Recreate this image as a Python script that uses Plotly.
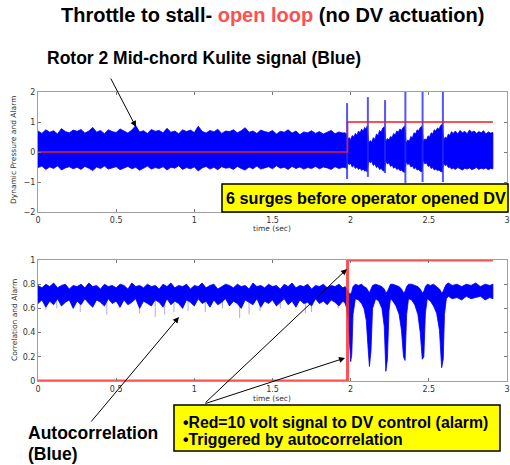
import plotly.graph_objects as go

# --- top panel: Kulite dynamic pressure, envelope of the blue trace (calm part, one value per 0.025 s)
kulite_hi_calm = [0.70, 0.62, 0.74, 0.66, 0.71, 0.60, 0.78, 0.68, 0.64, 0.73,
                  0.69, 0.75, 0.63, 0.70, 0.82, 0.66, 0.72, 0.61, 0.74, 0.68,
                  0.65, 0.77, 0.70, 0.63, 0.73, 0.88, 0.67, 0.71, 0.62, 0.75,
                  0.69, 0.72, 0.64, 0.79, 0.66, 0.70, 0.61, 0.74, 0.68, 0.73,
                  0.65, 0.86, 0.69, 0.63, 0.72, 0.67, 0.76, 0.62, 0.70, 0.68,
                  0.74, 0.64, 0.71, 0.81, 0.66, 0.70, 0.62, 0.73, 0.68, 0.65,
                  0.72, 0.60, 0.69, 0.66, 0.74, 0.63, 0.70, 0.58, 0.67, 0.64,
                  0.71, 0.62, 0.68, 0.60, 0.66, 0.72, 0.61, 0.67, 0.63]
kulite_lo_calm = [-0.52, -0.47, -0.58, -0.50, -0.55, -0.46, -0.60, -0.53, -0.49, -0.56,
                  -0.51, -0.58, -0.48, -0.54, -0.62, -0.50, -0.55, -0.47, -0.57, -0.52,
                  -0.49, -0.59, -0.54, -0.48, -0.56, -0.51, -0.61, -0.53, -0.47, -0.57,
                  -0.52, -0.55, -0.49, -0.60, -0.51, -0.54, -0.46, -0.58, -0.52, -0.56,
                  -0.50, -0.63, -0.53, -0.48, -0.57, -0.51, -0.59, -0.49, -0.54, -0.52,
                  -0.58, -0.48, -0.55, -0.60, -0.50, -0.56, -0.47, -0.57, -0.53, -0.49,
                  -0.56, -0.46, -0.54, -0.51, -0.58, -0.48, -0.55, -0.50, -0.57, -0.52,
                  -0.55, -0.48, -0.56, -0.50, -0.53, -0.58, -0.49, -0.55, -0.51]
calm_t = [i * 0.025 for i in range(len(kulite_hi_calm))]

# surge part (between the spikes the amplitude builds up again)
surge_t = [1.965, 1.975,
           1.98, 1.99, 2.00, 2.01, 2.02, 2.03, 2.04, 2.05, 2.06, 2.07, 2.08, 2.09, 2.10, 2.105,
           2.115, 2.125, 2.135, 2.145, 2.155, 2.165, 2.175, 2.185, 2.195, 2.205, 2.215,
           2.225, 2.235, 2.245, 2.255, 2.265, 2.275, 2.285, 2.295, 2.305, 2.315, 2.325, 2.335, 2.345,
           2.355, 2.365, 2.375, 2.385, 2.395, 2.405, 2.415, 2.425, 2.435, 2.445, 2.455,
           2.465, 2.475, 2.485, 2.495, 2.505, 2.515, 2.525, 2.535, 2.545, 2.555, 2.565, 2.575, 2.585,
           2.595, 2.605, 2.615, 2.625, 2.635, 2.645, 2.655, 2.67, 2.685, 2.70, 2.715, 2.73,
           2.745, 2.76, 2.775, 2.79, 2.805, 2.82, 2.835, 2.85, 2.865, 2.88, 2.895, 2.91]
kulite_hi_surge = [0.64, 0.58,
                   0.40, 0.48, 0.42, 0.55, 0.50, 0.62, 0.56, 0.70, 0.64, 0.76, 0.70, 0.82, 0.76, 0.86,
                   0.30, 0.38, 0.33, 0.48, 0.42, 0.60, 0.55, 0.72, 0.66, 0.80, 0.84,
                   0.36, 0.45, 0.40, 0.52, 0.48, 0.62, 0.57, 0.70, 0.66, 0.77, 0.72, 0.82, 0.86,
                   0.30, 0.40, 0.36, 0.52, 0.47, 0.64, 0.60, 0.74, 0.70, 0.82, 0.86,
                   0.34, 0.44, 0.40, 0.54, 0.50, 0.64, 0.60, 0.74, 0.70, 0.80, 0.76, 0.88, 0.92,
                   0.38, 0.50, 0.46, 0.60, 0.55, 0.68, 0.62, 0.70, 0.60, 0.72, 0.64, 0.69,
                   0.61, 0.73, 0.66, 0.70, 0.62, 0.68, 0.64, 0.71, 0.60, 0.67, 0.63, 0.65]
kulite_lo_surge = [-0.52, -0.56,
                   -0.35, -0.42, -0.38, -0.50, -0.45, -0.55, -0.50, -0.58, -0.54, -0.62, -0.57, -0.64, -0.60, -0.66,
                   -0.28, -0.36, -0.32, -0.45, -0.40, -0.52, -0.48, -0.58, -0.55, -0.62, -0.64,
                   -0.30, -0.40, -0.36, -0.48, -0.44, -0.54, -0.50, -0.58, -0.55, -0.62, -0.60, -0.66, -0.68,
                   -0.32, -0.42, -0.38, -0.50, -0.46, -0.56, -0.52, -0.60, -0.58, -0.64, -0.66,
                   -0.28, -0.40, -0.36, -0.48, -0.45, -0.55, -0.52, -0.60, -0.57, -0.62, -0.60, -0.65, -0.66,
                   -0.36, -0.46, -0.42, -0.52, -0.50, -0.57, -0.53, -0.58, -0.52, -0.56, -0.60, -0.54,
                   -0.57, -0.53, -0.59, -0.55, -0.52, -0.58, -0.54, -0.57, -0.53, -0.59, -0.55, -0.56]

# the 6 surge spikes
spike_t = [1.977, 2.11, 2.22, 2.35, 2.46, 2.59]
spike_hi = [1.63, 1.83, 1.73, 2.0, 2.0, 2.0]
spike_lo = [-0.90, -0.83, -0.70, -1.03, -1.00, -1.00]

# alarm (red)
alarm_t = [0, 1.98, 1.98, 2.91]
alarm_v = [0, 0, 1, 1]

# --- bottom panel: autocorrelation envelope (calm part, one value per 0.025 s)
corr_hi_calm = [0.79, 0.77, 0.80, 0.78, 0.81, 0.77, 0.79, 0.80, 0.76, 0.79,
                0.78, 0.80, 0.77, 0.81, 0.78, 0.79, 0.76, 0.80, 0.78, 0.79,
                0.77, 0.80, 0.79, 0.76, 0.81, 0.78, 0.79, 0.77, 0.80, 0.78,
                0.79, 0.76, 0.80, 0.78, 0.81, 0.77, 0.79, 0.78, 0.80, 0.76,
                0.79, 0.78, 0.81, 0.77, 0.79, 0.80, 0.76, 0.78, 0.80, 0.79,
                0.77, 0.80, 0.78, 0.79, 0.76, 0.81, 0.78, 0.79, 0.77, 0.80,
                0.78, 0.79, 0.76, 0.80, 0.78, 0.81, 0.77, 0.79, 0.78, 0.80,
                0.76, 0.79, 0.78, 0.80, 0.77, 0.79, 0.78, 0.80, 0.77]
corr_lo_calm = [0.64, 0.67, 0.61, 0.66, 0.63, 0.68, 0.62, 0.65, 0.67, 0.60,
                0.66, 0.63, 0.68, 0.64, 0.61, 0.67, 0.65, 0.62, 0.68, 0.64,
                0.66, 0.61, 0.67, 0.63, 0.65, 0.68, 0.60, 0.66, 0.64, 0.62,
                0.67, 0.65, 0.61, 0.68, 0.63, 0.66, 0.64, 0.60, 0.67, 0.65,
                0.62, 0.68, 0.64, 0.66, 0.61, 0.67, 0.63, 0.65, 0.68, 0.62,
                0.66, 0.64, 0.60, 0.67, 0.65, 0.63, 0.68, 0.61, 0.66, 0.64,
                0.67, 0.62, 0.65, 0.68, 0.63, 0.66, 0.61, 0.67, 0.64, 0.65,
                0.62, 0.68, 0.64, 0.66, 0.63, 0.67, 0.65, 0.62, 0.66]

corr_t_surge = [1.965, 1.975, 1.985, 1.993, 2.000, 2.007, 2.015, 2.03, 2.05, 2.07, 2.085, 2.10, 2.11,
                2.12, 2.13, 2.14, 2.16, 2.18, 2.20, 2.215, 2.225, 2.235, 2.245, 2.255, 2.27, 2.29,
                2.31, 2.325, 2.338, 2.348, 2.358, 2.37, 2.39, 2.41, 2.43, 2.445, 2.458, 2.468, 2.478,
                2.49, 2.51, 2.53, 2.55, 2.568, 2.582, 2.592, 2.60, 2.612, 2.625, 2.65, 2.68, 2.71,
                2.74, 2.77, 2.80, 2.83, 2.86, 2.89, 2.91]
corr_hi_surge = [0.78, 0.76, 0.74, 0.72, 0.72, 0.74, 0.78, 0.80, 0.79, 0.80, 0.78, 0.77, 0.75,
                 0.73, 0.76, 0.79, 0.80, 0.79, 0.78, 0.76, 0.73, 0.74, 0.78, 0.80, 0.80, 0.79,
                 0.78, 0.76, 0.73, 0.74, 0.78, 0.80, 0.80, 0.79, 0.78, 0.76, 0.73, 0.74, 0.78,
                 0.80, 0.79, 0.80, 0.78, 0.76, 0.73, 0.74, 0.77, 0.80, 0.81, 0.79, 0.80, 0.78,
                 0.80, 0.79, 0.81, 0.78, 0.80, 0.79, 0.80]
corr_lo_surge = [0.64, 0.60, 0.50, 0.30, 0.16, 0.22, 0.55, 0.68, 0.67, 0.64, 0.60, 0.50, 0.30,
                 0.12, 0.25, 0.60, 0.68, 0.66, 0.60, 0.45, 0.08, 0.18, 0.58, 0.68, 0.66, 0.62,
                 0.55, 0.42, 0.20, 0.17, 0.55, 0.68, 0.67, 0.63, 0.55, 0.40, 0.18, 0.20, 0.56,
                 0.68, 0.66, 0.62, 0.56, 0.42, 0.11, 0.18, 0.55, 0.68, 0.70, 0.68, 0.69, 0.67,
                 0.70, 0.68, 0.69, 0.70, 0.67, 0.69, 0.68]

# faint downward dips of the autocorrelation
dip_t = [0.05, 0.12, 0.27, 0.44, 0.52, 0.65, 0.75, 0.81, 0.87, 0.96, 1.07, 1.18, 1.29, 1.35,
         1.42, 1.55, 1.71, 1.75, 1.92]
dip_v = [0.59, 0.60, 0.57, 0.55, 0.60, 0.56, 0.53, 0.55, 0.57, 0.58, 0.57, 0.60, 0.52, 0.55,
         0.58, 0.60, 0.56, 0.57, 0.60]

W, H = 510, 465
def px(x):
    return x / W
def py(y):
    return 1 - y / H

BLUE = '#0000ff'
fig = go.Figure()

# top panel blue band
t_all = calm_t + surge_t
hi_all = kulite_hi_calm + kulite_hi_surge
lo_all = kulite_lo_calm + kulite_lo_surge
fig.add_trace(go.Scatter(x=t_all + t_all[::-1], y=hi_all + lo_all[::-1], fill='toself',
                         fillcolor=BLUE, line=dict(color=BLUE, width=0.8), mode='lines',
                         xaxis='x', yaxis='y', hoverinfo='skip'))
sx, sy = [], []
for t, a, b in zip(spike_t, spike_hi, spike_lo):
    sx += [t, t, None]
    sy += [b, a, None]
fig.add_trace(go.Scatter(x=sx, y=sy, mode='lines', line=dict(color='rgba(40,40,255,0.8)', width=2),
                         xaxis='x', yaxis='y'))
fig.add_trace(go.Scatter(x=alarm_t, y=alarm_v, mode='lines', line=dict(color='#ee1c25', width=1.5),
                         xaxis='x', yaxis='y'))

# bottom panel
dx, dy = [], []
for t, v in zip(dip_t, dip_v):
    dx += [t, t, None]
    dy += [v, 0.7, None]
fig.add_trace(go.Scatter(x=dx, y=dy, mode='lines', line=dict(color='rgba(60,60,255,0.45)', width=1),
                         xaxis='x2', yaxis='y2'))
ct = calm_t + corr_t_surge
chi = corr_hi_calm + corr_hi_surge
clo = corr_lo_calm + corr_lo_surge
fig.add_trace(go.Scatter(x=ct + ct[::-1], y=chi + clo[::-1], fill='toself',
                         fillcolor=BLUE, line=dict(color=BLUE, width=0.8), mode='lines',
                         xaxis='x2', yaxis='y2', hoverinfo='skip'))
fig.add_trace(go.Scatter(x=alarm_t, y=alarm_v, mode='lines', line=dict(color='rgba(255,50,50,0.85)', width=3),
                         xaxis='x2', yaxis='y2'))

axis_style = dict(showline=True, linecolor='#a0a0a0', linewidth=1, mirror='ticks', ticks='inside',
                  ticklen=3, tickcolor='#777', showgrid=False, zeroline=False, automargin=False,
                  tickfont=dict(family='DejaVu Sans', size=8, color='#333'))

fig.update_layout(
    width=W, height=H, margin=dict(l=0, r=0, t=0, b=0, autoexpand=False),
    paper_bgcolor='white', plot_bgcolor='white', showlegend=False,
    xaxis=dict(domain=[px(38), px(507)], range=[0, 3], dtick=0.5, anchor='y', **axis_style),
    yaxis=dict(domain=[py(212), py(92)], range=[-2, 2], dtick=1, anchor='x', **axis_style),
    xaxis2=dict(domain=[px(38), px(507)], range=[0, 3], dtick=0.5, anchor='y2', **axis_style),
    yaxis2=dict(domain=[py(381), py(260)], range=[0, 1], dtick=0.2, anchor='x2', **axis_style),
)

# yellow boxes
fig.add_shape(type='rect', xref='paper', yref='paper', x0=px(222), x1=px(508), y0=py(212), y1=py(184),
              fillcolor='#ffff00', line=dict(color='black', width=1.5), layer='above')
fig.add_shape(type='rect', xref='paper', yref='paper', x0=px(174), x1=px(500), y0=py(451), y1=py(405),
              fillcolor='#ffff00', line=dict(color='black', width=1.5), layer='above')

small = dict(family='DejaVu Sans', size=7.5, color='#333')
bold = 'Liberation Sans'
notes = [
    dict(x=px(272), y=py(15), text="<b>Throttle to stall- <span style='color:#ff5050'>open loop</span> (no DV actuation)</b>",
         font=dict(family=bold, size=20, color='black')),
    dict(x=px(45), y=py(58), text='<b>Rotor 2 Mid-chord Kulite signal (Blue)</b>', xanchor='left',
         font=dict(family=bold, size=17.5, color='black')),
    dict(x=px(272), y=py(229), text='time (sec)', font=small),
    dict(x=px(272), y=py(398), text='time (sec)', font=small),
    dict(x=px(14), y=py(150), text='Dynamic Pressure and Alarm', textangle=-90, font=small),
    dict(x=px(14), y=py(320), text='Correlation and Alarm', textangle=-90, font=small),
    dict(x=px(26), y=py(433), text='<b>Autocorrelation</b>', xanchor='left',
         font=dict(family=bold, size=17.5, color='black')),
    dict(x=px(26), y=py(454), text='<b>(Blue)</b>', xanchor='left',
         font=dict(family=bold, size=17.5, color='black')),
    dict(x=px(366), y=py(198), text='<b>6 surges before operator opened DV</b>',
         font=dict(family=bold, size=16.2, color='black')),
    dict(x=px(181), y=py(422), text='<b>•Red=10 volt signal to DV control (alarm)</b>', xanchor='left',
         font=dict(family=bold, size=15.8, color='black')),
    dict(x=px(181), y=py(439), text='<b>•Triggered by autocorrelation</b>', xanchor='left',
         font=dict(family=bold, size=15.8, color='black')),
]
for n in notes:
    n.setdefault('showarrow', False)
    n.setdefault('xanchor', 'center')
    n.setdefault('yanchor', 'middle')
    fig.add_annotation(xref='paper', yref='paper', **n)

# arrows: head position, tail offset in pixels
arrows = [(136, 127, -26, -50), (179, 317, -89, 106), (347, 269, -143, 135), (345, 358, -141, 46)]
for hx, hy, ax, ay in arrows:
    fig.add_annotation(xref='paper', yref='paper', x=px(hx), y=py(hy), ax=ax, ay=ay, text='',
                       showarrow=True, arrowhead=2, arrowsize=1.2, arrowwidth=1, arrowcolor='black')

# the page body has a default 8px margin, drop it so the figure sits at the window corner
fig.write_html('out.html', config={'displayModeBar': False},
               post_script="document.body.style.margin='0px'; document.body.style.overflow='hidden';")
